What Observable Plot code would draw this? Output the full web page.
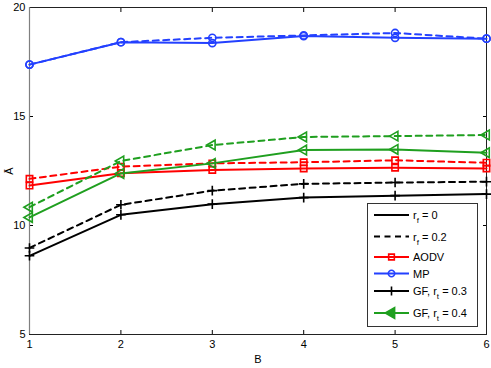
<!DOCTYPE html>
<html><head><meta charset="utf-8">
<script src="https://cdn.jsdelivr.net/npm/d3@7"></script>
<script src="https://cdn.jsdelivr.net/npm/@observablehq/plot@0.6"></script>
<style>
body{margin:0;background:#fff}
#chart svg{font-family:"Liberation Sans",Arial,sans-serif}
</style>
</head><body><div id="chart"></div>
<script>
// ---- data ----
const B = [1, 2, 3, 4, 5, 6];
const xTicks = [1, 2, 3, 4, 5, 6];
const yTicks = [5, 10, 15, 20];
const aodv_rf0  = [11.83, 12.40, 12.55, 12.62, 12.65, 12.62];
const aodv_rf02 = [12.14, 12.70, 12.85, 12.90, 12.99, 12.88];
const mp_rf0    = [17.38, 18.41, 18.37, 18.69, 18.61, 18.57];
const mp_rf02   = [17.38, 18.41, 18.61, 18.72, 18.83, 18.57];
const gf03_rf0  = [8.61, 10.49, 10.98, 11.28, 11.37, 11.44];
const gf03_rf02 = [8.97, 10.95, 11.60, 11.91, 11.97, 12.01];
const gf04_rf0  = [10.37, 12.39, 12.85, 13.46, 13.49, 13.34];
const gf04_rf02 = [10.84, 12.96, 13.69, 14.06, 14.10, 14.15];

const methods = [
  {key: "AODV", color: "#ff0000", symbol: "square", rotate: 0, solid: aodv_rf0, dashed: aodv_rf02},
  {key: "MP", color: "#2340ff", symbol: "circle", rotate: 0, solid: mp_rf0, dashed: mp_rf02},
  {key: "GF03", color: "#000000", symbol: "plus", rotate: 0, solid: gf03_rf0, dashed: gf03_rf02},
  {key: "GF04", color: "#1f9f1f", symbol: "triangle", rotate: -90, solid: gf04_rf0, dashed: gf04_rf02}
];

const rows = [];
for (const m of methods) {
  for (const [style, vals] of [["solid", m.solid], ["dashed", m.dashed]]) {
    vals.forEach((v, i) => rows.push({B: B[i], v, key: m.key + style, method: m.key, style, color: m.color, symbol: m.symbol, rotate: m.rotate}));
  }
}

const marks = [];
for (const m of methods) {
  for (const style of ["dashed", "solid"]) {
    const d = rows.filter(r => r.method === m.key && r.style === style);
    marks.push(Plot.line(d, {x: "B", y: "v", stroke: m.color, strokeWidth: 2,
      strokeDasharray: style === "dashed" ? "6,4.5" : null}));
    marks.push(Plot.dot(d, {x: "B", y: "v", stroke: m.color, fill: "none", strokeWidth: 1.6,
      symbol: m.symbol, r: m.symbol === "plus" ? 3.2 : 3.6, rotate: m.rotate}));
  }
}

const plot = Plot.plot({
  width: 491, height: 368,
  marginLeft: 29, marginRight: 5, marginTop: 7, marginBottom: 34,
  style: {fontFamily: '"Liberation Sans",Arial,sans-serif', fontSize: "11px", background: "white", color: "black"},
  x: {domain: [1, 6]},
  y: {domain: [5, 20]},
  marks: [
    Plot.axisX({ticks: xTicks, tickSize: 0, tickPadding: 6, tickFormat: d => d, label: "B", labelAnchor: "center", labelOffset: 28, labelArrow: "none"}),
    Plot.axisX({ticks: xTicks, tickSize: -4, tickFormat: () => "", label: null}),
    Plot.axisX({anchor: "top", ticks: xTicks, tickSize: -4, tickFormat: () => "", label: null}),
    Plot.axisY({ticks: yTicks, tickSize: 0, tickPadding: 4, tickFormat: d => d, label: "Ā", labelAnchor: "center", labelOffset: 24, labelArrow: "none"}),
    Plot.axisY({ticks: yTicks, tickSize: -4, tickFormat: () => "", label: null}),
    Plot.axisY({anchor: "right", ticks: yTicks, tickSize: -4, tickFormat: () => "", label: null}),
    Plot.frame({stroke: "#222", strokeWidth: 1}),
    Plot.ruleX([1], {stroke: "#808080", strokeWidth: 1.2}),
    ...marks
  ]
});

document.getElementById("chart").appendChild(plot);

// ---- legend ----
const svg = d3.select(plot);
const lg = svg.append("g").attr("font-size", 11).attr("fill", "black").attr("text-anchor", "start");
lg.append("rect").attr("x", 367.5).attr("y", 203.5).attr("width", 110).attr("height", 123)
  .attr("fill", "white").attr("stroke", "#333").attr("stroke-width", 1);
const items = [
  {y: 215, color: "#000", dash: null, sym: null, main: "r", sub: "f", rest: " = 0"},
  {y: 236.5, color: "#000", dash: "6,4.5", sym: null, main: "r", sub: "f", rest: " = 0.2"},
  {y: 257, color: "#ff0000", dash: null, sym: d3.symbolSquare, rot: 0, main: "AODV"},
  {y: 273.5, color: "#2340ff", dash: null, sym: d3.symbolCircle, rot: 0, main: "MP"},
  {y: 291, color: "#000", dash: null, sym: d3.symbolPlus, rot: 0, main: "GF, r", sub: "t", rest: " = 0.3"},
  {y: 313, color: "#1f9f1f", dash: null, sym: d3.symbolTriangle, rot: -90, main: "GF, r", sub: "t", rest: " = 0.4", fillSym: true}
];
for (const it of items) {
  lg.append("line").attr("x1", 374).attr("x2", 409).attr("y1", it.y).attr("y2", it.y)
    .attr("stroke", it.color).attr("stroke-width", 2).attr("stroke-dasharray", it.dash);
  if (it.sym) {
    const size = it.sym === d3.symbolTriangle ? 50 : it.sym === d3.symbolPlus ? 28 : 32;
    lg.append("path").attr("d", d3.symbol(it.sym, size)())
      .attr("transform", `translate(391.5,${it.y}) rotate(${it.rot})`)
      .attr("fill", it.fillSym ? it.color : "none").attr("stroke", it.color).attr("stroke-width", 1.6);
  }
  const t = lg.append("text").attr("x", 413).attr("y", it.y + 4).attr("text-anchor", "start");
  t.append("tspan").text(it.main);
  if (it.sub) {
    t.append("tspan").attr("dy", 4).attr("font-size", 8).text(it.sub);
    t.append("tspan").attr("dy", -4).text(it.rest);
  }
}
</script>
</body></html>
